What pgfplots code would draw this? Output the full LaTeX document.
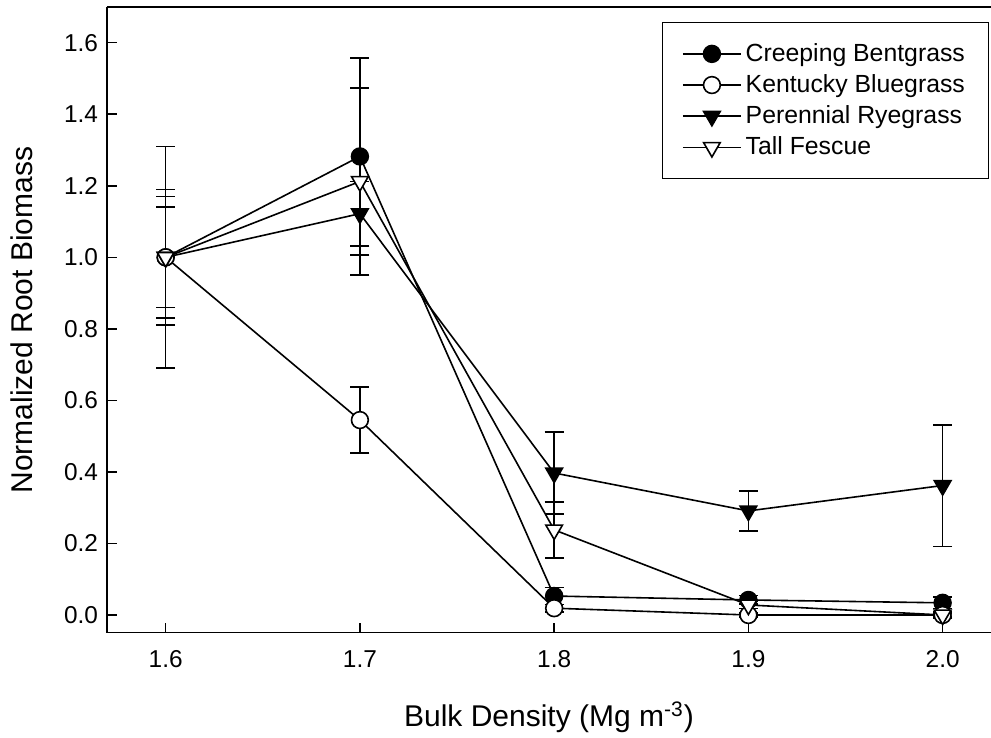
\documentclass[border=0pt]{standalone}
\usepackage{pgfplots}
\pgfplotsset{compat=1.18}
\usepackage{fontspec}
\setmainfont{Liberation Sans}
\begin{document}
\begin{tikzpicture}
\begin{axis}[
  scale only axis,
  width=442pt, height=312.7pt,
  xmin=1.5698, xmax=2.0249,
  ymin=-0.0495, ymax=1.699,
  separate axis lines,
  axis x line=box, axis y line=left,
  axis line style={-, line width=0.8pt},
  xtick={1.6,1.7,1.8,1.9,2.0},
  ytick={0,0.2,0.4,0.6,0.8,1.0,1.2,1.4,1.6},
  xtick pos=bottom, ytick pos=left,
  tick align=inside,
  major tick length=5pt,
  tick style={line width=0.8pt, black},
  /pgf/number format/.cd, fixed, fixed zerofill, precision=1, assume math mode=true,
  /pgfplots/.cd,
  tick label style={font=\fontsize{12.2}{14}\selectfont},
  xticklabel style={yshift=-5.5pt},
  yticklabel style={xshift=-1pt},
  xlabel={Bulk Density (Mg m\textsuperscript{-3})},
  ylabel={Normalized Root Biomass},
  label style={font=\fontsize{15}{17}\selectfont},
  xlabel style={yshift=-10pt},
  ylabel style={yshift=8.5pt},
  legend style={at={(1,1)}, anchor=north east, xshift=-1pt, yshift=-7.25pt,
    font=\fontsize{12.4}{14}\selectfont, draw=black, line width=0.6pt,
    inner xsep=9.75pt, inner ysep=8.5pt, row sep=1.1pt},
  legend cell align=left,
  legend image code/.code={\draw[mark repeat=2,mark phase=2,#1] plot coordinates {(0pt,0pt) (14.5pt,0pt) (29pt,0pt)};},
  every axis plot/.append style={line width=0.8pt, black},
  error bars/y dir=both, error bars/y explicit,
  error bars/error bar style={line width=0.8pt},
  error bars/error mark options={rotate=90, mark size=4.75pt, line width=0.8pt},
]
\addplot[mark=*, mark size=4.2pt, mark options={fill=black}] coordinates {
  (1.6,1.000) +- (0,0.310)
  (1.7,1.282) +- (0,0.275)
  (1.8,0.053) +- (0,0.024)
  (1.9,0.042) +- (0,0.012)
  (2.0,0.034) +- (0,0.016)
};
\addlegendentry{Creeping Bentgrass}
\addplot[mark=*, mark size=4.2pt, mark options={fill=white}] coordinates {
  (1.6,1.000) +- (0,0.140)
  (1.7,0.545) +- (0,0.092)
  (1.8,0.019) +- (0,0.010)
  (1.9,0.000) +- (0,0.005)
  (2.0,0.000) +- (0,0.005)
};
\addlegendentry{Kentucky Bluegrass}
\addplot[mark=triangle*, mark size=4.8pt, mark options={fill=black, rotate=180}] coordinates {
  (1.6,1.000) +- (0,0.170)
  (1.7,1.122) +- (0,0.090)
  (1.8,0.397) +- (0,0.115)
  (1.9,0.291) +- (0,0.056)
  (2.0,0.362) +- (0,0.170)
};
\addlegendentry{Perennial Ryegrass}
\addplot[mark=triangle*, mark size=4.8pt, mark options={fill=white, rotate=180}] coordinates {
  (1.6,1.000) +- (0,0.190)
  (1.7,1.212) +- (0,0.262)
  (1.8,0.238) +- (0,0.078)
  (1.9,0.028) +- (0,0.010)
  (2.0,0.000) +- (0,0.010)
};
\addlegendentry{Tall Fescue}
\end{axis}
\pgfresetboundingbox
\useasboundingbox ([xshift=-53.5pt,yshift=-52.65pt]current axis.south west) rectangle ([yshift=3.65pt]current axis.north east);
\end{tikzpicture}
\end{document}
